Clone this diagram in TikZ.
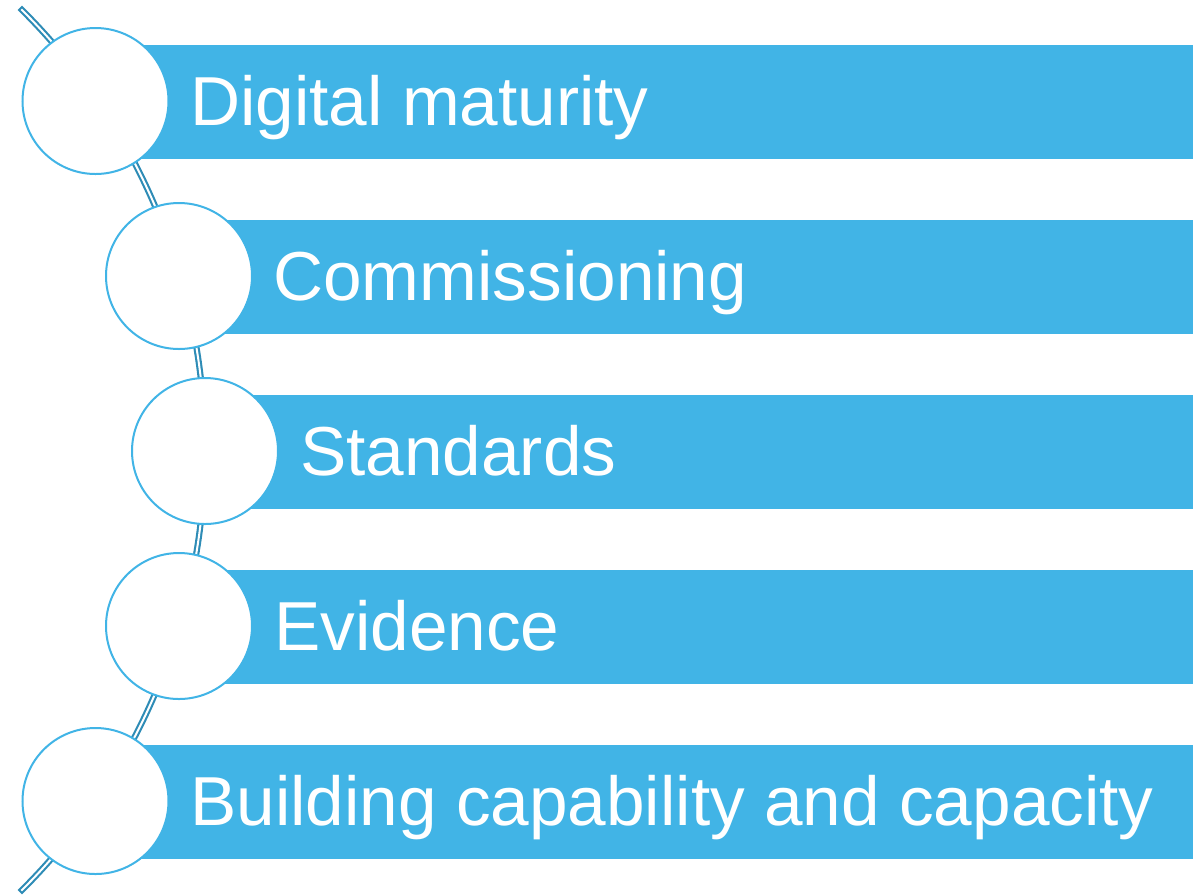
\documentclass[tikz,border=0pt]{standalone}
\usepackage{fontspec}
\setmainfont{Liberation Sans}
\definecolor{barblue}{RGB}{65,180,230}
\definecolor{arcblue}{RGB}{46,140,182}
\begin{document}
\begin{tikzpicture}[x=0.75pt,y=-0.75pt,
  bar/.style={fill=barblue,draw=none},
  ring/.style={circle,draw=barblue,line width=1.5pt,fill=white,minimum size=109.5pt,inner sep=0pt},
  label/.style={anchor=base west,text=white,font=\fontsize{52pt}{60pt}\selectfont,inner sep=0pt},
  spine/.style={draw=arcblue,line width=1.6pt,double=white,double distance=1.5pt,line cap=rect}
]
\useasboundingbox (0,0) rectangle (1202,894);
% bars
\foreach \i/\cx in {0/95,1/179,2/205,3/179,4/95}{
  \fill[bar] (\cx,{45+175*\i}) rectangle (1193,{158.5+175*\i});
}
% spine arc
\coordinate (top) at (22,10);
\draw[spine] (top) arc[start angle=45.16,end angle=-45.16,radius=465.4pt] coordinate (bottom);
% circles
\node[ring] (c1) at (95.5,101) {};
\node[ring] (c2) at (179,276) {};
\node[ring] (c3) at (205,451) {};
\node[ring] (c4) at (179,626) {};
\node[ring] (c5) at (95.5,801) {};
% labels
\node[label] (t1) at (190,125) {Digital maturity};
\node[label] (t2) at (273,300) {Commissioning};
\node[label] (t3) at (300,475) {Standards};
\node[label] (t4) at (274,650) {Evidence};
\node[label] (t5) at (190,825) {Building capability and capacity};
\end{tikzpicture}
\end{document}
